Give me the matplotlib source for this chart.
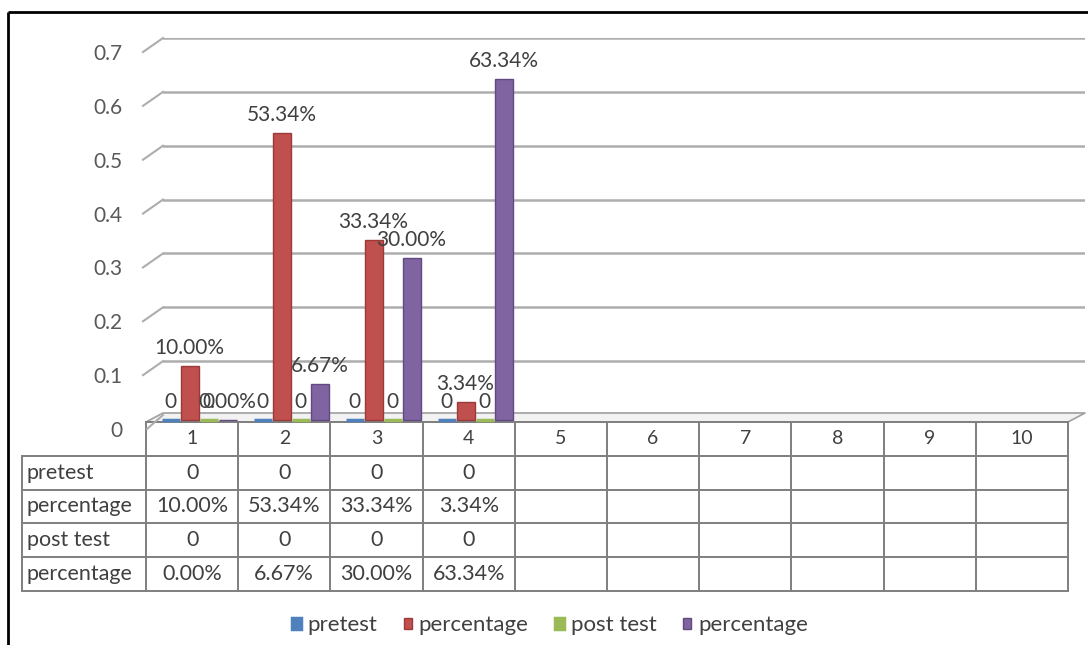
import numpy as np
import matplotlib

matplotlib.use('Agg')
from matplotlib import pyplot as plt
from matplotlib.transforms import ScaledTranslation

plt.rcParams['font.family'] = ['Lato', 'DejaVu Sans']

# chart data
categories = ['1', '2', '3', '4', '5', '6', '7', '8', '9', '10']
series_names = ['pretest', 'percentage', 'post test', 'percentage']
pretest = [0, 0, 0, 0]
pre_pct = [0.10, 0.5334, 0.3334, 0.0334]
posttest = [0, 0, 0, 0]
post_pct = [0.0, 0.0667, 0.30, 0.6334]
yticks = [0, 0.1, 0.2, 0.3, 0.4, 0.5, 0.6, 0.7]

colors = ['#4F81BD', '#C0504D', '#9BBB59', '#8064A2']
edges = ['#3A6596', '#9A3B39', '#7A9642', '#614A80']
series = [pretest, pre_pct, posttest, post_pct]
label_fmt = [lambda v: '%d' % v, lambda v: '%.2f%%' % (v * 100),
             lambda v: '%d' % v, lambda v: '%.2f%%' % (v * 100)]

W, H = 1088, 645
DPI = 100
fig = plt.figure(figsize=(W / DPI, H / DPI), dpi=DPI)
fig.patch.set_facecolor('white')

# overlay in pixel units for frame, floor and data table
ov = fig.add_axes([0, 0, 1, 1], zorder=0)
ov.set_xlim(0, W)
ov.set_ylim(H, 0)
ov.axis('off')

# back wall of the plot area (pixels)
px_left, px_right, px_top, px_bottom = 163, 1085, 38, 415
cat_px0, cat_step = 199.0, 92.0
ax = fig.add_axes([px_left / W, 1 - px_bottom / H,
                   (px_right - px_left) / W, (px_bottom - px_top) / H], zorder=1)
ax.patch.set_alpha(0)
x0 = 1 + (px_left - cat_px0) / cat_step
x1 = 1 + (px_right - cat_px0) / cat_step
ax.set_xlim(x0, x1)
ax.set_ylim(0, 0.7)
for s in ax.spines.values():
    s.set_visible(False)
ax.set_xticks([])

ax.set_yticks(yticks)
ax.set_yticklabels(['0' if t == 0 else '%g' % t for t in yticks])
ax.tick_params(axis='y', length=0, pad=29, labelsize=15, labelcolor='#595959')
for lab in ax.get_yticklabels():
    lab.set_transform(lab.get_transform() + ScaledTranslation(0, -0.14, fig.dpi_scale_trans))

# gridlines with slanted left stub
grid_c = '#ADADAD'
drop = 14 / ((px_bottom - px_top) / 0.7)
for t in yticks[1:]:
    ax.axhline(t, color=grid_c, lw=1.8, zorder=0)
    ax.plot([x0 - 20 / cat_step, x0], [t - drop, t], color=grid_c, lw=1.5,
            clip_on=False, zorder=0)
ax.plot([x0 - 16 / cat_step, x0], [-drop, 0], color=grid_c, lw=1.5, clip_on=False, zorder=0)

# floor
ov.fill([146, 163, 1085, 1068], [422, 413, 413, 422], color='#F2F2F2', zorder=1)
ov.plot([146, 163, 1085, 1068, 146], [422, 413, 413, 422, 422], color='#A0A0A0', lw=1.2, zorder=1)

# bars sit a little in front of the back wall
shift = 5
axb = fig.add_axes([px_left / W, 1 - (px_bottom + shift) / H,
                    (px_right - px_left) / W, (px_bottom - px_top) / H], zorder=2)
axb.set_xlim(x0, x1)
axb.set_ylim(0, 0.7)
axb.axis('off')

n = len(pretest)
xs = np.arange(1, n + 1)
step = 19 / cat_step
width = 18 / cat_step
handles = []
for k, (vals, c, e) in enumerate(zip(series, colors, edges)):
    pos = xs + (k - 1.5) * step
    b = axb.bar(pos, vals, width=width, color=c, edgecolor=e if max(vals) > 0 else c,
                lw=1.0 if max(vals) > 0 else 2.5, clip_on=False, zorder=3)
    handles.append(b)
    for xp, v in zip(pos, vals):
        axb.annotate(label_fmt[k](v), (xp, v), xytext=(0, 13), textcoords='offset points',
                     ha='center', va='center', fontsize=15, color='#404040', zorder=4)

# data table
tbl_left, lab_left = 146, 22
col_w = 92.2
row_tops = [422, 456, 490, 523, 557, 591]
tbl_right = tbl_left + col_w * len(categories)
line_c = '#7F7F7F'
ov.plot([tbl_left, tbl_right], [row_tops[0]] * 2, color=line_c, lw=1.4)
for y in row_tops[1:]:
    ov.plot([lab_left, tbl_right], [y, y], color=line_c, lw=1.4)
ov.plot([lab_left, lab_left], [row_tops[1], row_tops[-1]], color=line_c, lw=1.4)
for i in range(len(categories) + 1):
    xv = tbl_left + i * col_w
    ov.plot([xv, xv], [row_tops[0], row_tops[-1]], color=line_c, lw=1.4)

txt_c = '#404040'
for i, c in enumerate(categories):
    ov.text(tbl_left + (i + 0.5) * col_w, (row_tops[0] + row_tops[1]) / 2, c,
            ha='center', va='center', fontsize=14, color=txt_c)
for r, (name, vals) in enumerate(zip(series_names, series)):
    yc = (row_tops[r + 1] + row_tops[r + 2]) / 2
    ov.text(lab_left + 5, yc, name, ha='left', va='center', fontsize=15.5, color=txt_c)
    for i, v in enumerate(vals):
        ov.text(tbl_left + (i + 0.5) * col_w, yc, label_fmt[r](v),
                ha='center', va='center', fontsize=15.5, color=txt_c)

# outer frame (top and left edges)
ov.plot([8, W], [12, 12], color='black', lw=2, solid_capstyle='butt')
ov.plot([8, 8], [12, H], color='black', lw=2, solid_capstyle='butt')

fig.legend(handles=handles, labels=series_names, loc='center',
           bbox_to_anchor=(550 / W, 1 - 625 / H), ncol=4, frameon=False,
           handlelength=0.38, handleheight=0.38, handletextpad=0.3,
           columnspacing=1.2, fontsize=16, labelcolor='#404040')

fig.savefig('out.png', dpi=DPI)
